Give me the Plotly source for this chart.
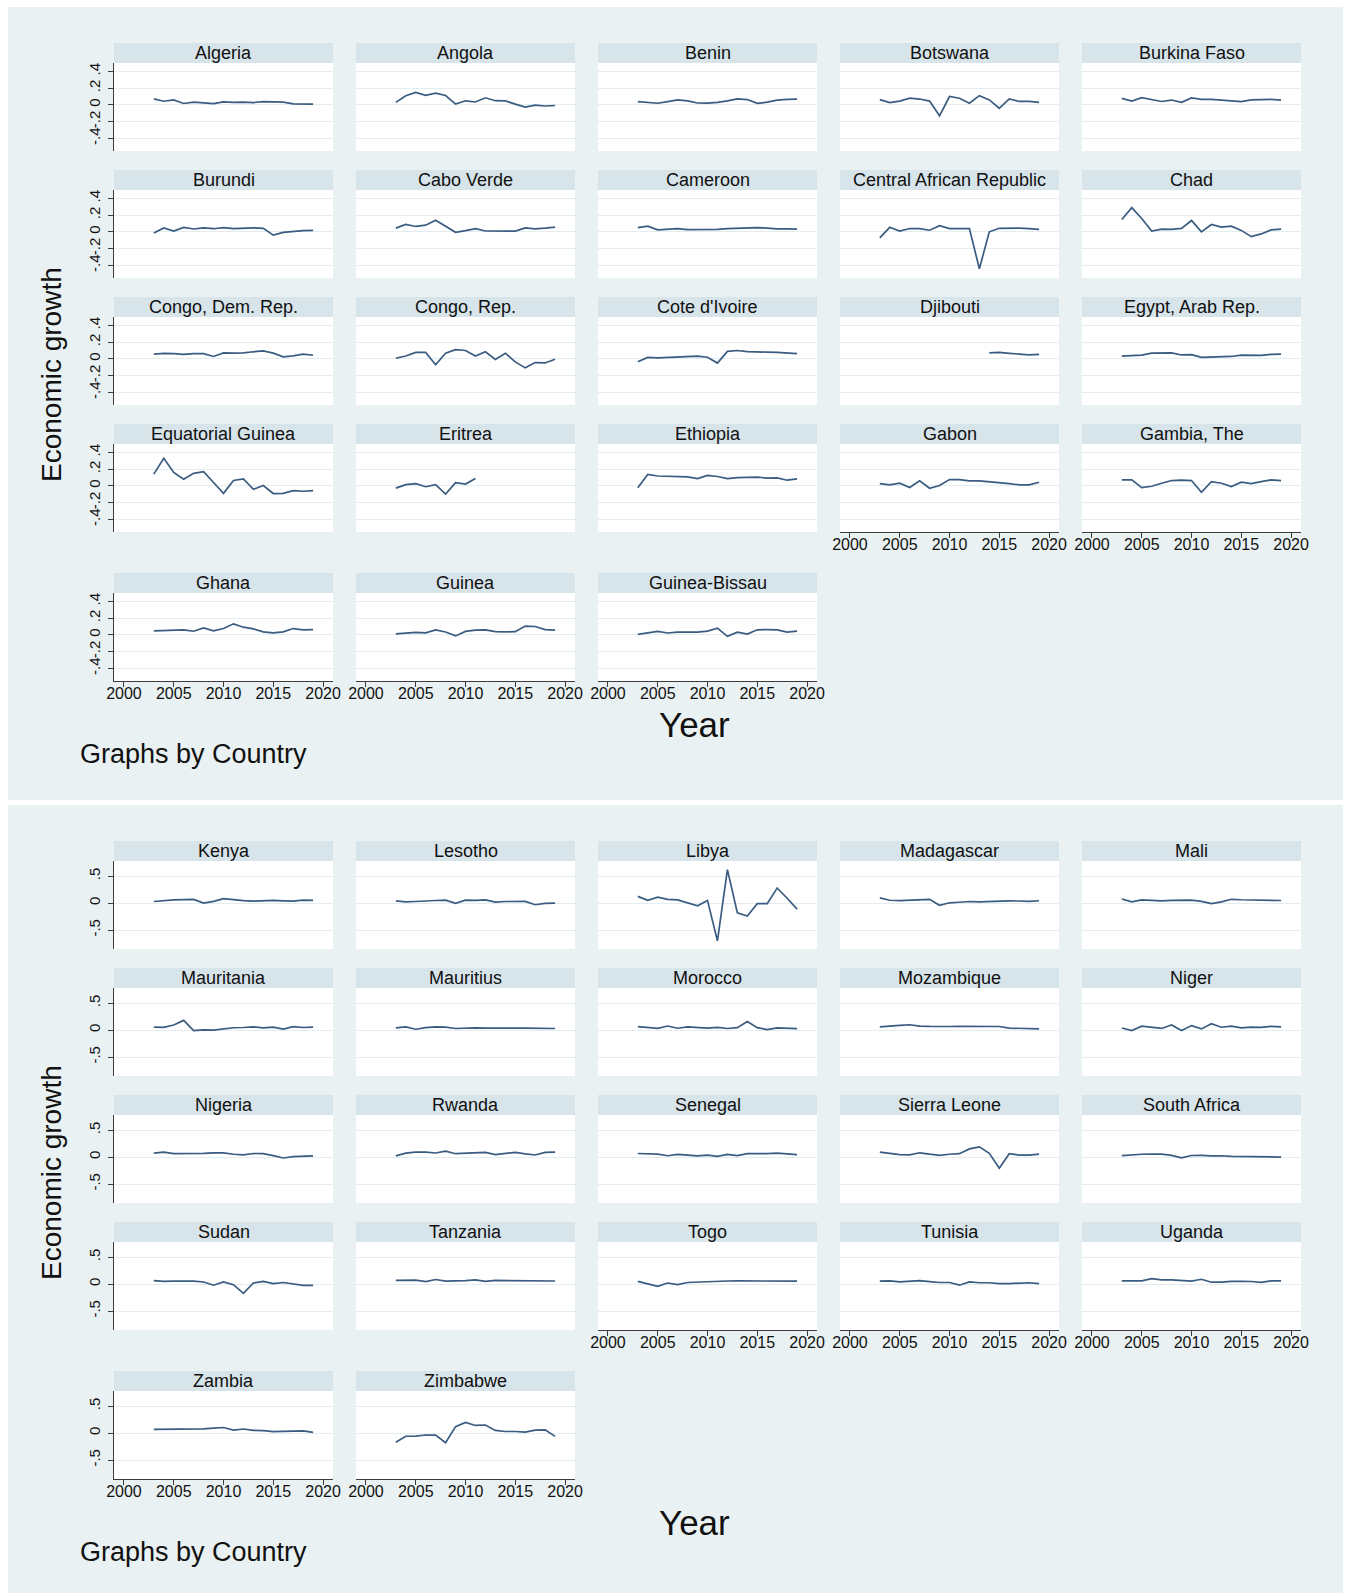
import plotly.graph_objects as go

# ---------------------------------------------------------------------------
# Economic growth by country, 2003-2019 (two Stata-style "by Country" panels)
# ---------------------------------------------------------------------------
YEARS = [2003, 2004, 2005, 2006, 2007, 2008, 2009, 2010, 2011,
         2012, 2013, 2014, 2015, 2016, 2017, 2018, 2019]

X_TICKS = [2000, 2005, 2010, 2015, 2020]

# first graph: y axis -.4 .. .4
TOP_Y_TICKS = [-0.4, -0.2, 0.0, 0.2, 0.4]
TOP_Y_LABELS = ["-.4", "-.2", "0", ".2", ".4"]
# second graph: y axis -.5 .. .5
BOT_Y_TICKS = [-0.5, 0.0, 0.5]
BOT_Y_LABELS = ["-.5", "0", ".5"]

algeria = [0.072, 0.044, 0.059, 0.017, 0.034, 0.024, 0.016, 0.036, 0.029, 0.034, 0.028, 0.038, 0.037, 0.032, 0.013, 0.012, 0.010]
angola = [0.030, 0.110, 0.150, 0.115, 0.140, 0.112, 0.009, 0.049, 0.035, 0.085, 0.050, 0.048, 0.009, -0.026, -0.002, -0.013, -0.007]
benin = [0.039, 0.031, 0.020, 0.040, 0.060, 0.049, 0.023, 0.021, 0.030, 0.048, 0.072, 0.064, 0.018, 0.033, 0.057, 0.067, 0.069]
botswana = [0.063, 0.027, 0.046, 0.080, 0.070, 0.045, -0.130, 0.100, 0.080, 0.020, 0.110, 0.060, -0.040, 0.072, 0.041, 0.042, 0.030]
burkina_faso = [0.078, 0.045, 0.087, 0.063, 0.041, 0.058, 0.030, 0.084, 0.066, 0.065, 0.058, 0.043, 0.039, 0.060, 0.062, 0.067, 0.057]
burundi = [-0.012, 0.048, 0.009, 0.054, 0.035, 0.049, 0.038, 0.051, 0.040, 0.044, 0.049, 0.042, -0.039, -0.006, 0.005, 0.016, 0.018]
cabo_verde = [0.045, 0.090, 0.065, 0.080, 0.140, 0.070, -0.005, 0.015, 0.040, 0.011, 0.008, 0.006, 0.010, 0.047, 0.037, 0.045, 0.057]
cameroon = [0.052, 0.068, 0.024, 0.036, 0.040, 0.028, 0.026, 0.028, 0.030, 0.040, 0.045, 0.052, 0.050, 0.046, 0.035, 0.036, 0.032]
central_african_republic = [-0.071, 0.055, 0.010, 0.040, 0.040, 0.020, 0.075, 0.040, 0.040, 0.040, -0.440, 0.001, 0.043, 0.045, 0.045, 0.038, 0.031]
chad = [0.147, 0.290, 0.160, 0.010, 0.033, 0.031, 0.042, 0.136, 0.001, 0.089, 0.057, 0.069, 0.018, -0.056, -0.024, 0.024, 0.032]
congo_dem_rep = [0.056, 0.066, 0.062, 0.053, 0.063, 0.062, 0.029, 0.071, 0.069, 0.071, 0.085, 0.095, 0.069, 0.024, 0.037, 0.058, 0.044]
congo_rep = [0.008, 0.035, 0.078, 0.078, -0.070, 0.068, 0.110, 0.100, 0.034, 0.085, -0.007, 0.068, -0.036, -0.107, -0.044, -0.048, -0.004]
cote_divoire = [-0.035, 0.018, 0.013, 0.019, 0.017, 0.025, 0.033, 0.020, -0.050, 0.090, 0.100, 0.088, 0.088, 0.080, 0.077, 0.069, 0.062]
djibouti = [None, None, None, None, None, None, None, None, None, None, None, 0.071, 0.077, 0.067, 0.054, 0.048, 0.055]
egypt = [0.032, 0.041, 0.045, 0.068, 0.071, 0.072, 0.047, 0.051, 0.018, 0.022, 0.022, 0.029, 0.044, 0.043, 0.042, 0.053, 0.056]
equatorial_guinea = [0.140, 0.330, 0.160, 0.080, 0.150, 0.170, 0.040, -0.089, 0.065, 0.083, -0.041, 0.004, -0.091, -0.088, -0.057, -0.064, -0.056]
eritrea = [-0.027, 0.015, 0.026, -0.010, 0.014, -0.098, 0.039, 0.022, 0.087, None, None, None, None, None, None, None, None]
ethiopia = [-0.022, 0.136, 0.118, 0.115, 0.118, 0.108, 0.088, 0.126, 0.112, 0.087, 0.099, 0.103, 0.104, 0.094, 0.096, 0.068, 0.084]
gabon = [0.028, 0.012, 0.032, -0.020, 0.060, -0.028, 0.004, 0.076, 0.076, 0.060, 0.060, 0.052, 0.044, 0.028, 0.012, 0.012, 0.044]
gambia_the = [0.072, 0.072, -0.020, -0.004, 0.032, 0.064, 0.068, 0.064, -0.076, 0.052, 0.032, -0.008, 0.044, 0.028, 0.052, 0.072, 0.064]
ghana = [0.048, 0.052, 0.056, 0.060, 0.044, 0.084, 0.048, 0.076, 0.132, 0.092, 0.072, 0.036, 0.024, 0.036, 0.076, 0.060, 0.064]
guinea = [0.012, 0.023, 0.030, 0.025, 0.060, 0.035, -0.012, 0.042, 0.056, 0.059, 0.039, 0.037, 0.038, 0.105, 0.100, 0.064, 0.056]
guinea_bissau = [0.006, 0.028, 0.043, 0.023, 0.033, 0.032, 0.033, 0.045, 0.081, -0.017, 0.033, 0.010, 0.061, 0.063, 0.059, 0.034, 0.045]

kenya = [0.030, 0.050, 0.059, 0.063, 0.069, 0.002, 0.033, 0.084, 0.061, 0.046, 0.038, 0.050, 0.050, 0.042, 0.038, 0.057, 0.051]
lesotho = [0.042, 0.023, 0.030, 0.045, 0.048, 0.054, -0.005, 0.055, 0.050, 0.060, 0.020, 0.030, 0.027, 0.031, -0.030, -0.005, 0.000]
libya = [0.125, 0.050, 0.110, 0.070, 0.060, 0.006, -0.050, 0.050, -0.700, 0.620, -0.180, -0.240, -0.010, -0.010, 0.280, 0.090, -0.110]
madagascar = [0.098, 0.053, 0.046, 0.050, 0.062, 0.071, -0.040, 0.006, 0.016, 0.030, 0.023, 0.033, 0.031, 0.040, 0.039, 0.032, 0.044]
mali = [0.076, 0.023, 0.061, 0.053, 0.043, 0.050, 0.048, 0.054, 0.032, -0.008, 0.023, 0.071, 0.062, 0.058, 0.053, 0.047, 0.048]
mauritania = [0.056, 0.052, 0.094, 0.180, -0.010, 0.005, -0.001, 0.020, 0.044, 0.048, 0.061, 0.043, 0.054, 0.017, 0.063, 0.048, 0.057]
mauritius = [0.043, 0.058, 0.016, 0.045, 0.059, 0.055, 0.030, 0.041, 0.041, 0.035, 0.032, 0.037, 0.036, 0.038, 0.038, 0.038, 0.030]
morocco = [0.063, 0.048, 0.033, 0.076, 0.035, 0.059, 0.042, 0.038, 0.052, 0.030, 0.045, 0.160, 0.045, 0.011, 0.042, 0.031, 0.026]
mozambique = [0.060, 0.079, 0.087, 0.099, 0.073, 0.068, 0.064, 0.067, 0.071, 0.072, 0.070, 0.074, 0.067, 0.038, 0.037, 0.034, 0.023]
niger = [0.040, -0.008, 0.074, 0.058, 0.031, 0.096, -0.007, 0.084, 0.022, 0.118, 0.053, 0.075, 0.043, 0.057, 0.050, 0.070, 0.059]
nigeria = [0.074, 0.093, 0.064, 0.061, 0.066, 0.068, 0.080, 0.080, 0.053, 0.042, 0.067, 0.063, 0.027, -0.016, 0.008, 0.019, 0.022]
rwanda = [0.023, 0.074, 0.094, 0.092, 0.076, 0.112, 0.063, 0.073, 0.079, 0.086, 0.047, 0.062, 0.089, 0.060, 0.039, 0.086, 0.094]
senegal = [0.067, 0.059, 0.056, 0.025, 0.049, 0.037, 0.024, 0.036, 0.015, 0.051, 0.028, 0.066, 0.064, 0.064, 0.074, 0.062, 0.046]
sierra_leone = [0.093, 0.074, 0.045, 0.042, 0.080, 0.054, 0.032, 0.053, 0.063, 0.152, 0.190, 0.070, -0.205, 0.064, 0.038, 0.035, 0.054]
south_africa = [0.029, 0.046, 0.053, 0.056, 0.054, 0.032, -0.015, 0.030, 0.033, 0.022, 0.025, 0.014, 0.013, 0.007, 0.012, 0.015, 0.001]
sudan = [0.063, 0.051, 0.056, 0.063, 0.057, 0.039, -0.020, 0.040, -0.010, -0.170, 0.020, 0.050, 0.010, 0.030, 0.010, -0.023, -0.022]
tanzania = [0.069, 0.078, 0.074, 0.047, 0.085, 0.056, 0.054, 0.064, 0.079, 0.051, 0.068, 0.067, 0.062, 0.069, 0.068, 0.055, 0.058]
togo = [0.050, 0.000, -0.040, 0.020, -0.010, 0.030, 0.040, 0.050, 0.055, 0.058, 0.060, 0.059, 0.057, 0.056, 0.044, 0.049, 0.055]
tunisia = [0.056, 0.060, 0.040, 0.050, 0.063, 0.045, 0.030, 0.030, -0.020, 0.040, 0.025, 0.025, 0.010, 0.010, 0.020, 0.025, 0.010]
uganda = [0.060, 0.060, 0.060, 0.100, 0.080, 0.080, 0.070, 0.055, 0.090, 0.035, 0.035, 0.050, 0.050, 0.048, 0.031, 0.060, 0.060]
zambia = [0.069, 0.070, 0.072, 0.078, 0.084, 0.078, 0.092, 0.104, 0.056, 0.076, 0.051, 0.047, 0.029, 0.038, 0.035, 0.040, 0.014]
zimbabwe = [-0.170, -0.058, -0.057, -0.035, -0.037, -0.177, 0.120, 0.197, 0.142, 0.150, 0.050, 0.030, 0.030, 0.020, 0.055, 0.060, -0.061]

TOP_COUNTRIES = ["Algeria", "Angola", "Benin", "Botswana", "Burkina Faso",
                 "Burundi", "Cabo Verde", "Cameroon", "Central African Republic", "Chad",
                 "Congo, Dem. Rep.", "Congo, Rep.", "Cote d'Ivoire", "Djibouti", "Egypt, Arab Rep.",
                 "Equatorial Guinea", "Eritrea", "Ethiopia", "Gabon", "Gambia, The",
                 "Ghana", "Guinea", "Guinea-Bissau"]
TOP_SERIES = [algeria, angola, benin, botswana, burkina_faso,
              burundi, cabo_verde, cameroon, central_african_republic, chad,
              congo_dem_rep, congo_rep, cote_divoire, djibouti, egypt,
              equatorial_guinea, eritrea, ethiopia, gabon, gambia_the,
              ghana, guinea, guinea_bissau]

BOT_COUNTRIES = ["Kenya", "Lesotho", "Libya", "Madagascar", "Mali",
                 "Mauritania", "Mauritius", "Morocco", "Mozambique", "Niger",
                 "Nigeria", "Rwanda", "Senegal", "Sierra Leone", "South Africa",
                 "Sudan", "Tanzania", "Togo", "Tunisia", "Uganda",
                 "Zambia", "Zimbabwe"]
BOT_SERIES = [kenya, lesotho, libya, madagascar, mali,
              mauritania, mauritius, morocco, mozambique, niger,
              nigeria, rwanda, senegal, sierra_leone, south_africa,
              sudan, tanzania, togo, tunisia, uganda,
              zambia, zimbabwe]

# ---------------------------------------------------------------------------
# page geometry (pixels on the page)
# ---------------------------------------------------------------------------
W, H = 1351, 1593
# horizontal extent the figure occupies once placed in the page body
BODY_LEFT, BODY_W = 8, 1335
FONT = "Liberation Sans, Arial, Helvetica, sans-serif"
REGION_BG = "#e9f1f2"
STRIP_BG = "#d7e4ea"
GRID = "#e3ecef"
AXIS = "#3c3c3c"
LINE = "#3a5c80"

COL_LEFT = 114
COL_PITCH = 242
PANEL_W = 219
HEADER_H = 20
PLOT_H = 88
ROW_TOPS = [43, 170, 297, 424, 573]
GRAPH_SHIFT = 798


def fx(p):
    """page x pixel -> paper fraction"""
    return min(1.0, max(0.0, (p - BODY_LEFT) / BODY_W))


def fy(p):
    """page y pixel -> paper fraction"""
    return 1 - p / H


fig = go.Figure()
shapes = []
annotations = []

# graph region backgrounds
for top, bottom in [(7, 800), (805, 1593)]:
    shapes.append(dict(type="rect", xref="paper", yref="paper", layer="below",
                       x0=fx(6), x1=fx(1347), y0=fy(bottom), y1=fy(top),
                       fillcolor=REGION_BG, line=dict(width=0)))

graphs = [
    (TOP_COUNTRIES, TOP_SERIES, [-0.55, 0.50], TOP_Y_TICKS, TOP_Y_LABELS, 0),
    (BOT_COUNTRIES, BOT_SERIES, [-0.85, 0.78], BOT_Y_TICKS, BOT_Y_LABELS, GRAPH_SHIFT),
]

k = 0
axes = {}
for names, series, yrange, yticks, ylabels, shift in graphs:
    n = len(names)
    for i, (name, vals) in enumerate(zip(names, series)):
        k += 1
        r, c = divmod(i, 5)
        left = COL_LEFT + c * COL_PITCH
        right = left + PANEL_W
        head_top = ROW_TOPS[r] + shift
        plot_top = head_top + HEADER_H
        plot_bot = plot_top + PLOT_H
        show_x = i + 5 >= n
        show_y = c == 0

        # header strip, title, white plot region
        shapes.append(dict(type="rect", xref="paper", yref="paper", layer="below",
                           x0=fx(left), x1=fx(right), y0=fy(plot_top), y1=fy(head_top),
                           fillcolor=STRIP_BG, line=dict(width=0)))
        shapes.append(dict(type="rect", xref="paper", yref="paper", layer="below",
                           x0=fx(left), x1=fx(right), y0=fy(plot_bot), y1=fy(plot_top),
                           fillcolor="white", line=dict(width=0)))
        annotations.append(dict(text=name, xref="paper", yref="paper",
                                x=fx((left + right) / 2), y=fy(head_top + HEADER_H / 2),
                                xanchor="center", yanchor="middle", showarrow=False,
                                font=dict(family=FONT, size=18, color="#111")))

        sx = "" if k == 1 else str(k)
        axes["xaxis" + sx] = dict(
            domain=[fx(left), fx(right)], range=[1999, 2021], anchor="y" + sx,
            tickmode="array", tickvals=X_TICKS, showticklabels=show_x,
            ticks="outside" if show_x else "", ticklen=5, tickcolor=AXIS,
            ticklabelstandoff=-7,
            showline=show_x, linecolor=AXIS, linewidth=1,
            showgrid=False, zeroline=False, fixedrange=True,
            tickfont=dict(family=FONT, size=16, color="#111"))
        axes["yaxis" + sx] = dict(
            domain=[fy(plot_bot), fy(plot_top)], range=yrange, anchor="x" + sx,
            tickmode="array", tickvals=yticks, ticktext=ylabels, tickangle=-90,
            showticklabels=show_y, ticks="outside" if show_y else "", ticklen=5,
            ticklabelstandoff=2,
            tickcolor=AXIS, showline=show_y, linecolor=AXIS, linewidth=1,
            showgrid=True, gridcolor=GRID, gridwidth=1, zeroline=False,
            fixedrange=True, tickfont=dict(family=FONT, size=15, color="#111"))

        fig.add_trace(go.Scatter(x=YEARS, y=vals, mode="lines",
                                 line=dict(color=LINE, width=1.7),
                                 connectgaps=False, showlegend=False,
                                 xaxis="x" + sx, yaxis="y" + sx, name=name))

    # graph-level titles and note
    annotations.append(dict(text="Economic growth", xref="paper", yref="paper",
                            x=fx(51), y=fy(375 + shift), textangle=-90,
                            xanchor="center", yanchor="middle", showarrow=False,
                            font=dict(family=FONT, size=28, color="#111")))
    annotations.append(dict(text="Year", xref="paper", yref="paper",
                            x=fx(694), y=fy(724 + shift),
                            xanchor="center", yanchor="middle", showarrow=False,
                            font=dict(family=FONT, size=35, color="#111")))
    annotations.append(dict(text="Graphs by Country", xref="paper", yref="paper",
                            x=fx(78), y=fy(754 + shift),
                            xanchor="left", yanchor="middle", showarrow=False,
                            font=dict(family=FONT, size=27, color="#111")))

fig.update_layout(
    width=W, height=H, autosize=False,
    margin=dict(l=0, r=0, t=0, b=0),
    paper_bgcolor="white", plot_bgcolor="rgba(0,0,0,0)",
    shapes=shapes, annotations=annotations,
    showlegend=False, font=dict(family=FONT),
    **axes,
)

fig.write_html("out.html")
